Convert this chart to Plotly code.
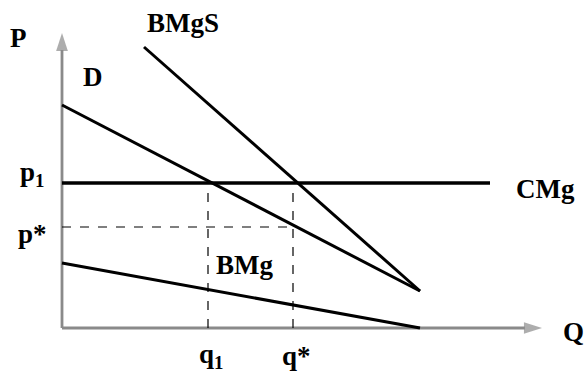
import plotly.graph_objs as go

# valores (unidades arbitrarias)
q1 = 14.6
q_star = 23.1
p1 = 14.5
p_star = 10.1

d_q = [0, 35.8]
d_p = [22.3, 3.7]

bmgs_q = [8.2, 35.8]
bmgs_p = [28.1, 3.7]

bmg_q = [0, 35.8]
bmg_p = [6.5, 0]

cmg_q = [0, 42.8]
cmg_p = [p1, p1]

q_max = 48.0
p_max = 29.5

FONT = "Liberation Serif, DejaVu Serif, serif"

fig = go.Figure()

# ejes con flecha (marcador 'arrow' orientado segun el segmento)
axis_col = '#8a8a8a'
for xs, ys in [([0, q_max], [0, 0]), ([0, 0], [0, p_max])]:
    fig.add_trace(go.Scatter(x=xs, y=ys, mode='lines+markers',
                             line=dict(color=axis_col, width=2.8),
                             marker=dict(symbol=['circle', 'arrow'], size=[0, 19],
                                         angleref='previous', color=axis_col,
                                         line=dict(width=0)),
                             showlegend=False, hoverinfo='skip'))

# curvas principales
for xs, ys, w in [(d_q, d_p, 3), (bmgs_q, bmgs_p, 3), (bmg_q, bmg_p, 3), (cmg_q, cmg_p, 3.5)]:
    fig.add_trace(go.Scatter(x=xs, y=ys, mode='lines',
                             line=dict(color='black', width=w),
                             showlegend=False, hoverinfo='skip'))

# lineas punteadas
dashed = [
    ([q1, q1], [0, p1]),
    ([q_star, q_star], [0, p1]),
    ([0, q_star], [p_star, p_star]),
]
for xs, ys in dashed:
    fig.add_trace(go.Scatter(x=xs, y=ys, mode='lines',
                             line=dict(color='black', width=1.2, dash='dash'),
                             showlegend=False, hoverinfo='skip'))

# etiquetas
labels = [
    ('P', -4.4, 29.0),
    ('D', 3.1, 25.1),
    ('BMgS', 12.1, 30.5),
    ('p<sub>1</sub>', -3.0, 15.4),
    ('CMg', 48.3, 13.9),
    ('p*', -3.0, 9.4),
    ('BMg', 18.2, 6.3),
    ('q<sub>1</sub>', q1 + 0.3, -2.8),
    ('q*', q_star + 0.3, -2.8),
    ('Q', 51.1, -0.4),
]
for txt, x, y in labels:
    fig.add_annotation(x=x, y=y, xref='x', yref='y', text='<b>%s</b>' % txt,
                       showarrow=False, font=dict(family=FONT, size=27, color='black'))

fig.update_layout(
    width=585,
    height=372,
    margin=dict(l=0, r=0, t=0, b=0),
    plot_bgcolor='white',
    paper_bgcolor='white',
    xaxis=dict(range=[-6.2, 52.3], visible=False, fixedrange=True),
    yaxis=dict(range=[-4.4, 32.8], visible=False, fixedrange=True),
    showlegend=False,
    hovermode=False,
)

# quitar el margen por defecto del body para que la figura ocupe toda la ventana
fig.write_html("out.html", config={"displayModeBar": False},
               post_script="document.body.style.margin='0';")
